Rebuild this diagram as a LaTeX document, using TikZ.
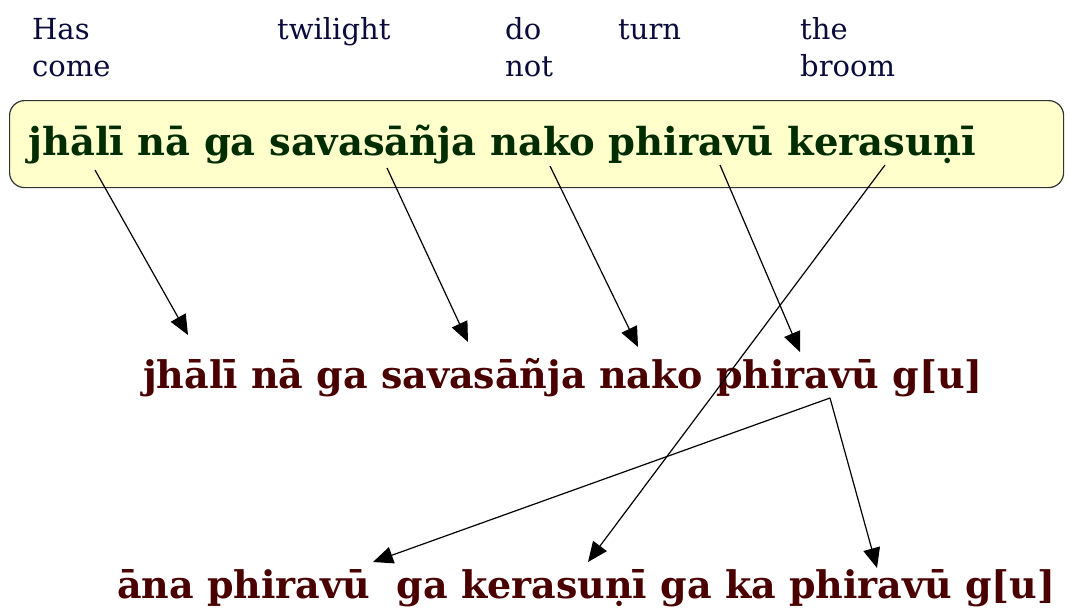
\documentclass[tikz,border=0pt]{standalone}
\usepackage{fontspec}
\setmainfont{DejaVu Serif}
\usetikzlibrary{arrows.meta, positioning}
\definecolor{glosscolor}{RGB}{10,10,60}
\definecolor{srccolor}{RGB}{0,45,0}
\definecolor{tgtcolor}{RGB}{74,0,0}
\definecolor{boxfill}{RGB}{255,255,204}

\begin{document}
\begin{tikzpicture}[
    x=1pt, y=-1pt,
    gloss/.style={anchor=base west, inner sep=0pt, text=glosscolor,
      font=\fontsize{29}{35}\selectfont},
    src/.style={anchor=base west, inner sep=0pt, text=srccolor,
      font=\fontsize{38.5}{46}\selectfont\bfseries},
    tgt/.style={anchor=base west, inner sep=0pt, text=tgtcolor,
      font=\fontsize{38}{46}\selectfont\bfseries},
    arrow/.style={-{Triangle[length=20pt, width=17pt]}, line width=1.2pt},
  ]
  \useasboundingbox (0,0) rectangle (1068,610);

  % English glosses
  \node[gloss] (has)      at (32,40)  {Has};
  \node[gloss] (come)     at (32,77)  {come};
  \node[gloss] (twilight) at (277,40) {twilight};
  \node[gloss] (do)       at (505,40) {do};
  \node[gloss] (not)      at (505,77) {not};
  \node[gloss] (turn)     at (618,40) {turn};
  \node[gloss] (the)      at (800,40) {the};
  \node[gloss] (broom)    at (800,77) {broom};

  % Source sentence in its box
  \node[draw=black!80, line width=1.2pt, fill=boxfill, rounded corners=15pt,
        minimum width=1054pt, minimum height=87pt, anchor=north west,
        inner sep=0pt] (box) at (9,100) {};
  \node[src] (source) at (28,155) {jhālī nā ga savasāñja nako phiravū kerasuṇī};

  % Reordered sentences
  \node[tgt] (middle) at (143,388) {jhālī nā ga savasāñja nako phiravū g[u]};
  \node[tgt] (bottom) at (117,598) {āna phiravū\ \ ga kerasuṇī ga ka phiravū g[u]};

  % Arrow ends
  \coordinate (s1) at (95,170);
  \coordinate (s2) at (387,168);
  \coordinate (s3) at (550,166);
  \coordinate (s4) at (720,165);
  \coordinate (s5) at (885,165);
  \coordinate (t1) at (188,335);
  \coordinate (t2) at (468,342);
  \coordinate (t3) at (638,347);
  \coordinate (t4) at (800,352);
  \coordinate (gu) at (830,398);
  \coordinate (b1) at (373,562);
  \coordinate (b2) at (588,562);
  \coordinate (b3) at (877,568);

  % Top to middle
  \draw[arrow] (s1) -- (t1);
  \draw[arrow] (s2) -- (t2);
  \draw[arrow] (s3) -- (t3);
  \draw[arrow] (s4) -- (t4);
  % Middle to bottom
  \draw[arrow] (s5) -- (b2);
  \draw[arrow] (gu) -- (b1);
  \draw[arrow] (gu) -- (b3);
\end{tikzpicture}
\end{document}
